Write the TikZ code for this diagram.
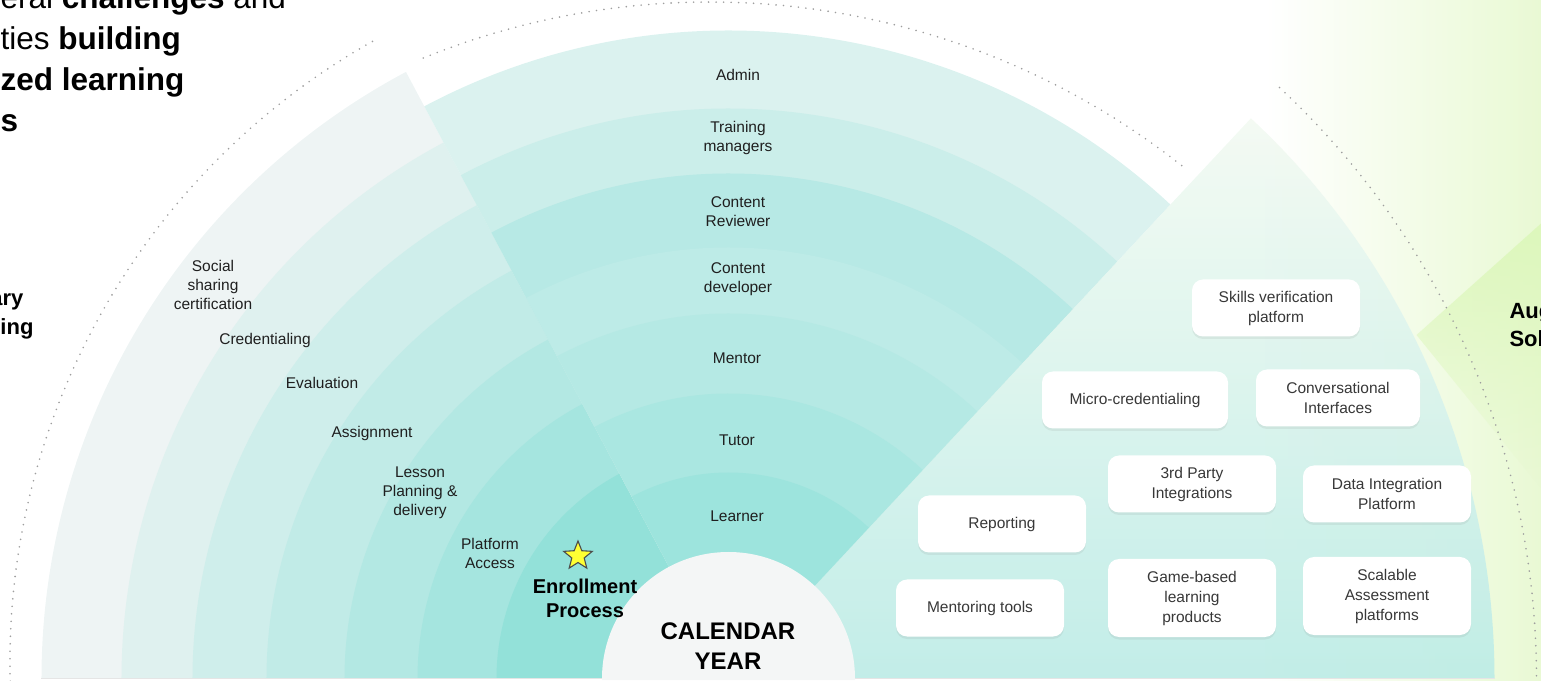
\documentclass[tikz,border=0pt]{standalone}
\usepackage{fontspec}
\setmainfont{Liberation Sans}
\usetikzlibrary{shapes.geometric,shadows,calc,fadings}
% ring shades, inner to outer
\definecolor{lf1}{HTML}{93E1D9}
\definecolor{lf2}{HTML}{A5E5DF}
\definecolor{lf3}{HTML}{B3E8E3}
\definecolor{lf4}{HTML}{C1EBE7}
\definecolor{lf5}{HTML}{CFEEEB}
\definecolor{lf6}{HTML}{DFF1EF}
\definecolor{lf7}{HTML}{EEF4F4}
\definecolor{md1}{HTML}{9DE4DD}
\definecolor{md2}{HTML}{AAE7E1}
\definecolor{md3}{HTML}{B5E9E4}
\definecolor{md4}{HTML}{BDEBE7}
\definecolor{md5}{HTML}{B7E9E5}
\definecolor{md6}{HTML}{CBEEEA}
\definecolor{md7}{HTML}{DBF2EF}
\definecolor{rtA}{HTML}{BDECE6}
\definecolor{rtB}{HTML}{F3FAF2}
\definecolor{solgreen}{HTML}{E9F9D4}
\definecolor{limeband}{HTML}{DDF7BC}
\definecolor{hub}{HTML}{F4F6F6}
\definecolor{dotgray}{HTML}{9E9E9E}
\definecolor{staryellow}{HTML}{FFFF33}

\begin{document}
\begin{tikzpicture}[x=1pt, y=1pt,
    role/.style={align=center, font=\fontsize{15.5}{19}\selectfont, text=black!88},
    tool/.style={fill=white, rounded corners=11pt, minimum width=168pt, minimum height=57pt,
                 align=center, font=\fontsize{15.5}{20}\selectfont, text=black!78,
                 drop shadow={shadow xshift=0pt, shadow yshift=-2.5pt, opacity=0.12}},
    tall/.style={tool, minimum height=78pt},
    key/.style={align=center, font=\bfseries\fontsize{20}{24}\selectfont},
    side/.style={font=\bfseries\fontsize{22}{28}\selectfont},
    head/.style={anchor=base west, font=\fontsize{31.5}{41}\selectfont},
    dots/.style={draw=dotgray, line width=1.8pt, line cap=round, dash pattern=on 0pt off 7.5pt}]

  \useasboundingbox (-728.5,-1.5) rectangle (812.5,678.5);

  % green backdrop on the far right
  \shade[left color=white, right color=solgreen] (536.5,-1.5) rectangle (812.5,678.5);
  \fill[limeband, path fading=south] (812.5,455) -- (688,343.5) -- (812.5,190) -- cycle;

  % workflow rings
  \foreach \r/\c in {687/lf7, 607/lf6, 536/lf5, 462/lf4, 384/lf3, 311/lf2, 232/lf1}
    \fill[\c] (0,0) -- (118:\r) arc[start angle=118, end angle=180, radius=\r] -- cycle;

  % role rings
  \foreach \r/\c in {648/md7, 570/md6, 505/md5, 431/md4, 365/md3, 285/md2, 206/md1}
    \fill[\c] (0,0) -- (47:\r) arc[start angle=47, end angle=118, radius=\r] -- cycle;

  % solutions fan
  \shade[shading angle=-45, bottom color=rtA, top color=rtB, fill opacity=0.92]
    (0,0) -- (766,0) arc[start angle=0, end angle=47, radius=766] -- cycle;

  \draw[black!10, line width=1pt] (-687,0.5) -- (766,0.5);

  % dotted outlines
  \draw[dots] ($(-5.1,15.9)+(181.5:713.5)$) arc[start angle=181.5, end angle=119.2, radius=713.5];
  \draw[dots] ($(-18.5,-85.5)+(112.1:762)$) arc[start angle=112.1, end angle=51.2, radius=762];
  \draw[dots] (47:808) arc[start angle=47, end angle=0, radius=808];

  % hub
  \fill[hub] (-126.5,-1.5) -- (-126.5,0) arc[start angle=180, end angle=0, radius=126.5] -- (126.5,-1.5) -- cycle;
  \node[key, font=\bfseries\fontsize{24}{30}\selectfont] (cal) at (-0.5,32) {CALENDAR\\YEAR};

  % roles
  \node[role] (admin)  at (9.5,603.5) {Admin};
  \node[role] (train)  at (9.5,540.5) {Training\\managers};
  \node[role] (review) at (9.5,466.5) {Content\\Reviewer};
  \node[role] (devel)  at (9.5,399.5) {Content\\developer};
  \node[role] (mentor) at (8.5,320.5) {Mentor};
  \node[role] (tutor)  at (8.5,238.5) {Tutor};
  \node[role] (learn)  at (8.5,162.5) {Learner};

  % workflow steps
  \node[role] (social) at (-515.5,393.5) {Social\\sharing\\certification};
  \node[role] (cred)   at (-463.5,338.5) {Credentialing};
  \node[role] (eval)   at (-406.5,295.5) {Evaluation};
  \node[role] (assign) at (-356.5,245.5) {Assignment};
  \node[role] (lesson) at (-308.5,185.5) {Lesson\\Planning \&\\delivery};
  \node[role] (access) at (-238.5,125.5) {Platform\\Access};
  \node[key]  (enrol)  at (-143.5,80.5) {Enrollment\\Process};
  \node[star, star points=5, star point ratio=2.3, minimum size=30pt, inner sep=0pt,
        fill=staryellow, draw=black!70, line width=1.1pt] (star) at (-150.5,122.5) {};

  % solution tools
  \node[tool] (skills) at (547.5,370.5) {Skills verification\\platform};
  \node[tool, minimum width=186pt] (micro) at (406.5,278.5) {Micro-credentialing};
  \node[tool, minimum width=164pt] (conv) at (609.5,280.5) {Conversational\\Interfaces};
  \node[tool] (third)  at (463.5,194.5) {3rd Party\\Integrations};
  \node[tool] (data)   at (658.5,184.5) {Data Integration\\Platform};
  \node[tool] (report) at (273.5,154.5) {Reporting};
  \node[tool] (mtools) at (251.5,70.5) {Mentoring tools};
  \node[tall] (game)   at (463.5,80.5) {Game-based\\learning\\products};
  \node[tall] (scale)  at (658.5,82.5) {Scalable\\Assessment\\platforms};

  % headings cut by the page edges
  \node[head] (h1) at (-731.5,669.5) {eral \textbf{challenges} and};
  \node[head] (h2) at (-731.5,628.5) {ties \textbf{building}};
  \node[head] (h3) at (-731.5,587.5) {\textbf{zed learning}};
  \node[head] (h4) at (-731.5,546.5) {\textbf{s}};
  \node[side, anchor=base east] (ary) at (-701.5,372.5) {ary};
  \node[side, anchor=base east] (ing) at (-691.5,343.5) {ing};
  \node[side, anchor=base west] (aug) at (777.5,359.5) {Aug};
  \node[side, anchor=base west] (sol) at (777.5,331.5) {Sol};
\end{tikzpicture}
\end{document}
